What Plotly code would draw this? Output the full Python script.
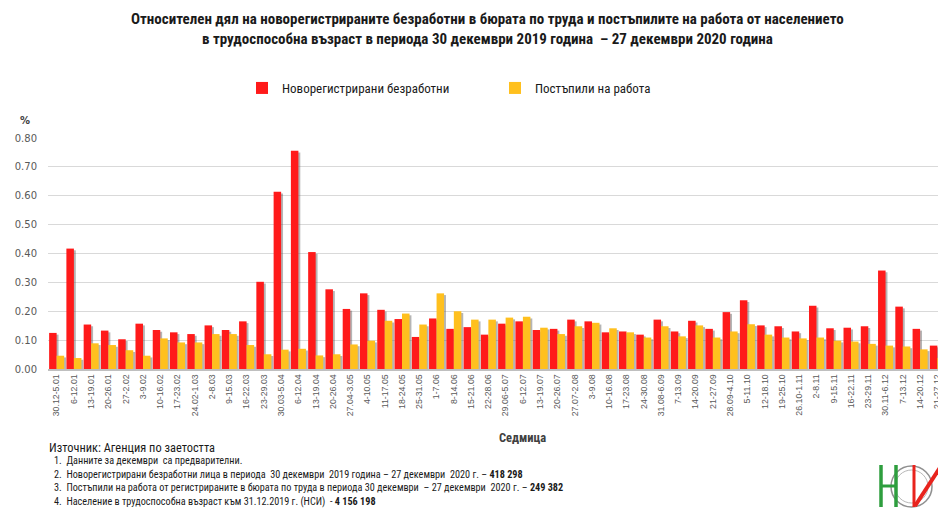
import plotly.graph_objects as go

weeks = ["30.12-5.01", "6-12.01", "13-19.01", "20-26.01", "27-2.02", "3-9.02", "10-16.02", "17-23.02",
         "24.02-1.03", "2-8.03", "9-15.03", "16-22.03", "23-29.03", "30.03-5.04", "6-12.04", "13-19.04",
         "20-26.04", "27.04-3.05", "4-10.05", "11-17.05", "18-24.05", "25-31.05", "1-7.06", "8-14.06",
         "15-21.06", "22-28.06", "29.06-5.07", "6-12.07", "13-19.07", "20-26.07", "27.07-2.08", "3-9.08",
         "10-16.08", "17-23.08", "24-30.08", "31.08-6.09", "7-13.09", "14-20.09", "21-27.09", "28.09-4.10",
         "5-11.10", "12-18.10", "19-25.10", "26.10-1.11", "2-8.11", "9-15.11", "16-22.11", "23-29.11",
         "30.11-6.12", "7-13.12", "14-20.12", "21-27.12"]

unemployed = [0.125, 0.417, 0.154, 0.133, 0.103, 0.157, 0.135, 0.127, 0.121, 0.151, 0.135, 0.165,
              0.302, 0.614, 0.756, 0.405, 0.276, 0.208, 0.262, 0.205, 0.173, 0.111, 0.175, 0.139,
              0.145, 0.119, 0.157, 0.165, 0.135, 0.139, 0.171, 0.165, 0.127, 0.130, 0.119, 0.171,
              0.130, 0.167, 0.139, 0.197, 0.238, 0.151, 0.148, 0.130, 0.219, 0.141, 0.143, 0.148,
              0.341, 0.216, 0.139, 0.081]

employed = [0.046, 0.038, 0.089, 0.083, 0.065, 0.046, 0.106, 0.092, 0.092, 0.121, 0.121, 0.083,
            0.051, 0.067, 0.070, 0.047, 0.051, 0.085, 0.098, 0.167, 0.192, 0.154, 0.262, 0.200,
            0.171, 0.171, 0.178, 0.181, 0.143, 0.121, 0.148, 0.160, 0.141, 0.127, 0.109, 0.148,
            0.113, 0.151, 0.109, 0.130, 0.155, 0.119, 0.109, 0.106, 0.109, 0.098, 0.095, 0.087,
            0.081, 0.078, 0.068, 0.038]

y_ticks = [0.0, 0.1, 0.2, 0.3, 0.4, 0.5, 0.6, 0.7, 0.8]

RED = "#ff1a1a"
YEL = "#ffc01e"
SHADOW = "rgba(90,90,90,0.45)"
BW = 0.435

fig = go.Figure()
fig.add_trace(go.Bar(x=weeks, y=[v - 0.006 for v in unemployed], offset=-BW + 0.11, width=BW,
                     marker=dict(color=SHADOW, line_width=0), showlegend=False, hoverinfo="skip"))
fig.add_trace(go.Bar(x=weeks, y=unemployed, name="Новорегистрирани безработни", offset=-BW, width=BW,
                     marker=dict(color=RED, line_width=0)))
fig.add_trace(go.Bar(x=weeks, y=[v - 0.006 for v in employed], offset=0.11, width=BW,
                     marker=dict(color=SHADOW, line_width=0), showlegend=False, hoverinfo="skip"))
fig.add_trace(go.Bar(x=weeks, y=employed, name="Постъпили на работа", offset=0, width=BW,
                     marker=dict(color=YEL, line_width=0)))

NARROW = "Liberation Sans Narrow, Roboto Condensed, Liberation Sans, Arial"
DARK = "#1a1a1a"

# Page is offset by the 8px body margin; positions below are in page pixels.
OFF = 8
W, H = 946 - OFF, 509 - OFF
L, R, T, B = 48 - OFF, 0, 138 - OFF, (509 - OFF) - (369 - OFF)
pw, ph = W - L - R, H - T - B


def px(x):
    return (x - OFF - L) / pw


def py(y):
    return (H - B - (y - OFF)) / ph


def note(text, x, y, size, xanchor="left", family=NARROW, color=DARK):
    return dict(text=text, x=px(x), y=py(y), xref="paper", yref="paper", xanchor=xanchor, yanchor="middle",
                showarrow=False, font=dict(size=size, color=color, family=family))


annotations = [
    note("<b>Относителен дял на новорегистрираните безработни в бюрата по труда и постъпилите на работа от населението</b>",
         487, 19, 15, "center"),
    note("<b>в трудоспособна възраст в периода 30 декември 2019 година  – 27 декември 2020 година</b>",
         487, 39, 15, "center"),
    note("<b>%</b>", 25, 121, 10, "center", "DejaVu Sans", "#404040"),
    note("<b>Седмица</b>", 522, 437, 12.5, "center", NARROW, "#404040"),
    note("Източник: Агенция по заетостта", 47, 447, 12.4),
    note("1.  Данните за декември  са предварителни.", 52, 460.5, 10.2),
    note("2.  Новорегистрирани безработни лица в периода  30 декември  2019 година – 27 декември  2020 г. – <b>418 298</b>",
         52, 474, 10.2),
    note("3.  Постъпили на работа от регистрираните в бюрата по труда в периода 30 декември  – 27 декември  2020 г. – <b>249 382</b>",
         52, 487.5, 10.2),
    note("4.  Население в трудоспособна възраст към 31.12.2019 г. (НСИ)  - <b>4 156 198</b>", 52, 501.5, 10.2),
]


# Logo (НСИ) drawn as simple decorative shapes, in page pixels
def line(x0, y0, x1, y1, color, w):
    return dict(type="line", xref="paper", yref="paper", x0=px(x0), y0=py(y0), x1=px(x1), y1=py(y1),
                line=dict(color=color, width=w))


GREEN = "#2e9e3e"
LRED = "#e8231d"
shapes = [
    dict(type="circle", xref="paper", yref="paper", x0=px(891), x1=px(932), y0=py(507), y1=py(466),
         line=dict(color="#909090", width=1.5)),
    dict(type="circle", xref="paper", yref="paper", x0=px(895), x1=px(928), y0=py(503), y1=py(470),
         line=dict(color="#b8b8b8", width=1)),
    line(881, 465, 881, 507, GREEN, 3.5),
    line(896, 465, 896, 507, GREEN, 3.5),
    line(881, 486, 896, 486, GREEN, 3),
    line(914, 465, 914, 507, LRED, 3),
    line(942, 465, 942, 507, LRED, 3.5),
    line(915, 506, 941, 466, LRED, 4),
]

fig.update_layout(
    width=W, height=H,
    margin=dict(l=L, r=R, t=T, b=B, pad=0),
    paper_bgcolor="white", plot_bgcolor="white",
    barmode="overlay",
    annotations=annotations,
    shapes=shapes,
    legend=dict(orientation="h", x=px(242), y=py(88), xanchor="left", yanchor="middle",
                font=dict(size=13, color=DARK, family=NARROW), entrywidth=208, entrywidthmode="pixels",
                itemwidth=30, bgcolor="rgba(0,0,0,0)"),
    xaxis=dict(type="category", tickangle=-90, tickfont=dict(size=8.8, color="#595959", family="Liberation Sans"),
               showline=True, linecolor="#bfbfbf", linewidth=1.5, showgrid=False, ticks="", fixedrange=True,
               range=[-0.5, len(weeks) - 0.5], automargin=False),
    yaxis=dict(range=[0, 0.8], tickvals=y_ticks, tickformat=".2f", showgrid=True, gridcolor="#d9d9d9",
               gridwidth=1, zeroline=False, tickfont=dict(size=10, color="#595959", family="DejaVu Sans"),
               ticks="", ticklabelstandoff=10, automargin=False),
    showlegend=True,
)
fig.write_html("out.html")
